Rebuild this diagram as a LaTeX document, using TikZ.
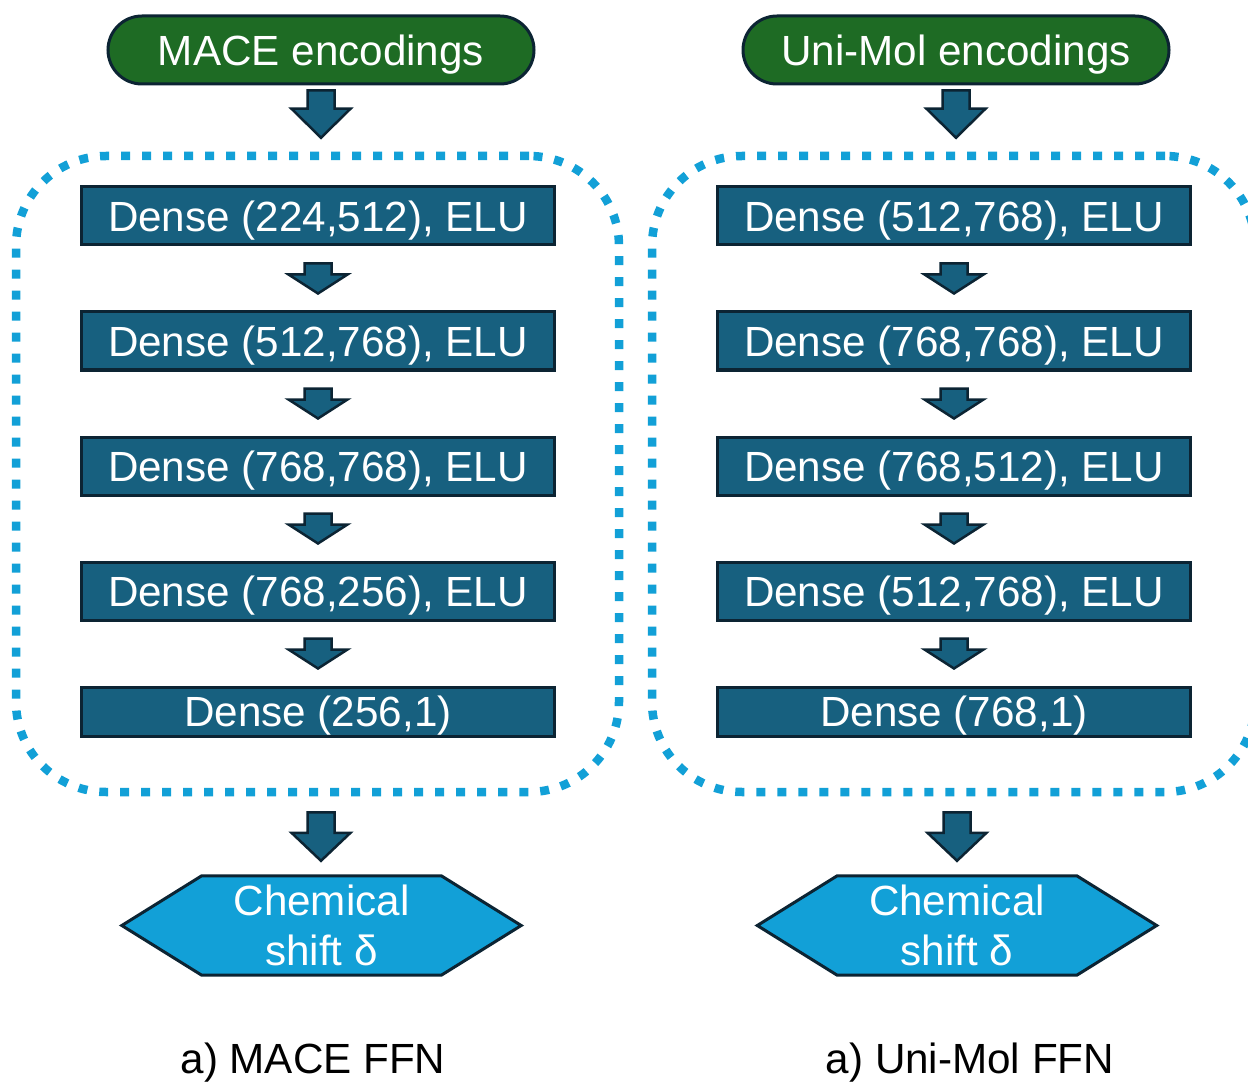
\documentclass[tikz,border=0pt]{standalone}
\usepackage{fontspec}
\setmainfont{Liberation Sans}
\usetikzlibrary{calc}

\definecolor{podgreen}{HTML}{1E6B24}
\definecolor{densefill}{HTML}{17607F}
\definecolor{edgeink}{HTML}{0C2433}
\definecolor{shiftcyan}{HTML}{12A0D7}

\tikzset{
  basetext/.style={font=\fontsize{42.2}{50}\selectfont, inner sep=0pt},
  lbl/.style={basetext, text=white, text height=30.2pt, text depth=0pt},
  encpill/.style={lbl, draw=edgeink, line width=3pt, fill=podgreen,
    rounded corners=34pt, minimum width=426pt, minimum height=68pt},
  denselayer/.style={lbl, draw=edgeink, line width=3pt, fill=densefill,
    minimum width=473pt, minimum height=58pt},
  outlayer/.style={denselayer, minimum height=49pt},
  groupbox/.style={draw=shiftcyan, line width=8.5pt, dash pattern=on 9pt off 12pt,
    rounded corners=90pt, minimum width=603pt, minimum height=636pt, inner sep=0pt},
  flowarrow/.style={draw=edgeink, line width=2.5pt, fill=densefill, line join=miter},
  hexframe/.style={minimum width=399pt, minimum height=99pt, inner sep=0pt},
  hexshape/.style={draw=edgeink, line width=3pt, fill=shiftcyan, line join=miter},
  hextext/.style={basetext, text=white, align=center},
  caption/.style={basetext, text=black, text height=30.2pt, text depth=0pt}
}

% block arrow pointing down: #1 tail point, #2 tip point, #3 head length
\newcommand\stackarrow[3]{%
  \draw[flowarrow] let \p1=(#1), \p2=(#2) in
    (\x1-13.5pt,\y1) -- (\x1+13.5pt,\y1) -- (\x1+13.5pt,\y2+#3) -- (\x1+29.5pt,\y2+#3)
    -- (\x1,\y2) -- (\x1-29.5pt,\y2+#3) -- (\x1-13.5pt,\y2+#3) -- cycle;}

\begin{document}
\begin{tikzpicture}[x=1pt, y=-1pt]
  \useasboundingbox (0,0) rectangle (1248,1083);
  \clip (0,0) rectangle (1248,1083);
  \fill[white] (0,0) rectangle (1248,1083);

  % ---------- left column: MACE ----------
  \node[encpill] (encL) at (321,50) {MACE encodings};
  \node[groupbox] (grpL) at (317.5,474) {};
  \node[denselayer] (L1) at (318,216) {Dense (224,512), ELU};
  \node[denselayer] (L2) at (318,341) {Dense (512,768), ELU};
  \node[denselayer] (L3) at (318,466) {Dense (768,768), ELU};
  \node[denselayer] (L4) at (318,591) {Dense (768,256), ELU};
  \node[outlayer]   (L5) at (318,711.5) {Dense (256,1)};

  \node[hexframe] (hexL) at (321.5,925.5) {};
  \draw[hexshape] (hexL.west) -- ($(hexL.north west)!.2!(hexL.north east)$)
    -- ($(hexL.north west)!.8!(hexL.north east)$) -- (hexL.east)
    -- ($(hexL.south west)!.8!(hexL.south east)$)
    -- ($(hexL.south west)!.2!(hexL.south east)$) -- cycle;
  \node[hextext] (hexLtxt) at (hexL.center) {Chemical\\shift δ};

  \stackarrow{$(encL.south)+(0,5)$}{$(grpL.north)+(0,-14)$}{29pt}
  \stackarrow{$(L1.south)+(0,17)$}{$(L2.north)+(0,-17)$}{19pt}
  \stackarrow{$(L2.south)+(0,17)$}{$(L3.north)+(0,-17)$}{19pt}
  \stackarrow{$(L3.south)+(0,17)$}{$(L4.north)+(0,-17)$}{19pt}
  \stackarrow{$(L4.south)+(0,17)$}{$(L5.north)+(0,-17)$}{19pt}
  \stackarrow{$(grpL.south)+(3.5,16)$}{$(hexL.north)+(0,-15)$}{28pt}

  \node[caption] (capL) at (313,1058.5) {a) MACE FFN};

  % ---------- right column: Uni-Mol ----------
  \node[encpill] (encR) at (956,50) {Uni-Mol encodings};
  \node[groupbox] (grpR) at (953.5,474) {};
  \node[denselayer] (R1) at (954,216) {Dense (512,768), ELU};
  \node[denselayer] (R2) at (954,341) {Dense (768,768), ELU};
  \node[denselayer] (R3) at (954,466) {Dense (768,512), ELU};
  \node[denselayer] (R4) at (954,591) {Dense (512,768), ELU};
  \node[outlayer]   (R5) at (954,711.5) {Dense (768,1)};

  \node[hexframe] (hexR) at (957,925.5) {};
  \draw[hexshape] (hexR.west) -- ($(hexR.north west)!.2!(hexR.north east)$)
    -- ($(hexR.north west)!.8!(hexR.north east)$) -- (hexR.east)
    -- ($(hexR.south west)!.8!(hexR.south east)$)
    -- ($(hexR.south west)!.2!(hexR.south east)$) -- cycle;
  \node[hextext] (hexRtxt) at (hexR.center) {Chemical\\shift δ};

  \stackarrow{$(encR.south)+(0,5)$}{$(grpR.north)+(0,-14)$}{29pt}
  \stackarrow{$(R1.south)+(0,17)$}{$(R2.north)+(0,-17)$}{19pt}
  \stackarrow{$(R2.south)+(0,17)$}{$(R3.north)+(0,-17)$}{19pt}
  \stackarrow{$(R3.south)+(0,17)$}{$(R4.north)+(0,-17)$}{19pt}
  \stackarrow{$(R4.south)+(0,17)$}{$(R5.north)+(0,-17)$}{19pt}
  \stackarrow{$(grpR.south)+(3.5,16)$}{$(hexR.north)+(0,-15)$}{28pt}

  \node[caption] (capR) at (970,1058.5) {a) Uni-Mol FFN};
\end{tikzpicture}
\end{document}
